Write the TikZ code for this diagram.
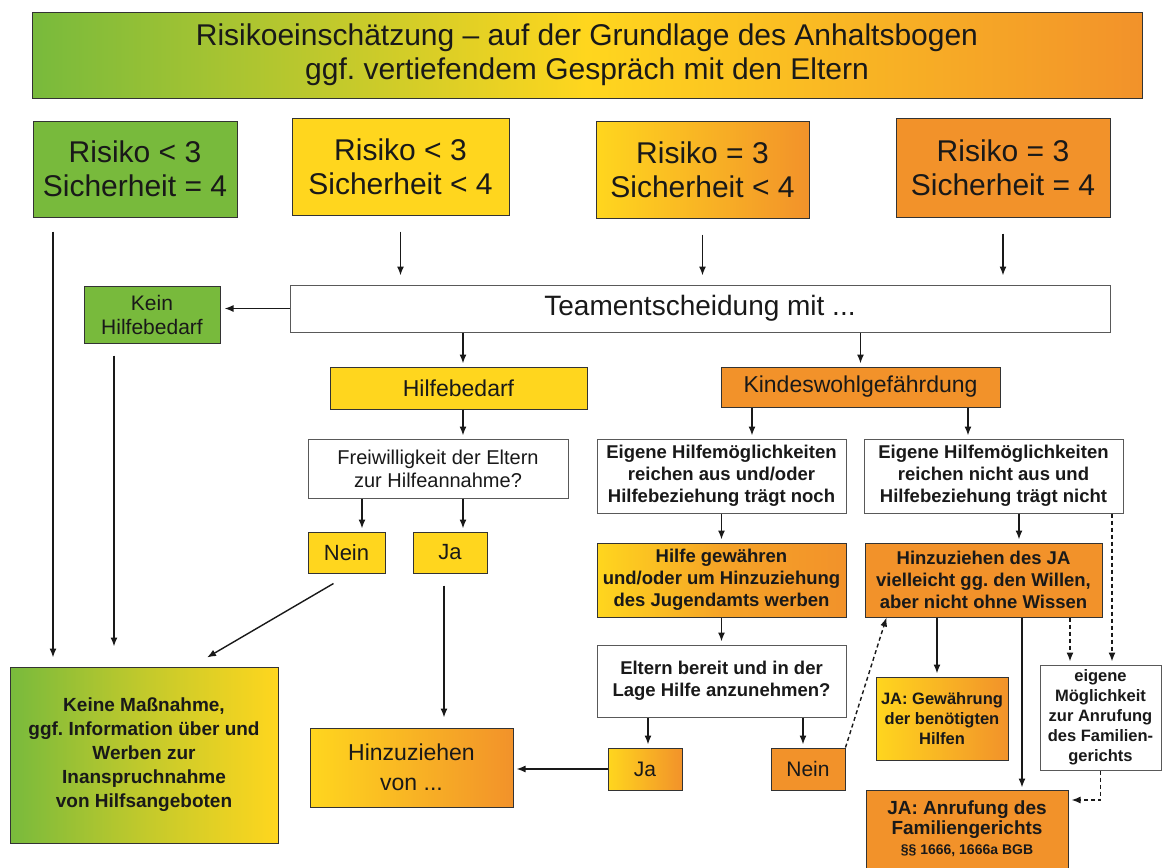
\documentclass[tikz,border=0pt]{standalone}
\usepackage{fontspec}
\setmainfont{Liberation Sans}
\usetikzlibrary{arrows.meta,calc}
\definecolor{cgreen}{RGB}{120,186,60}
\definecolor{cyellow}{RGB}{255,214,30}
\definecolor{corange}{RGB}{242,146,42}
\frenchspacing
\begin{document}
\begin{tikzpicture}[x=1pt,y=-1pt,
  box/.style={draw=black!80,line width=1pt,inner sep=2pt,align=center,text=black!90},
  wbox/.style={box,fill=white,draw=black!65},
  arr/.style={-{Latex[length=9pt,width=7pt]},line width=1.4pt,draw=black!90},
  darr/.style={arr,dash pattern=on 4pt off 3pt},
  fbig/.style={font=\fontsize{30}{34}\selectfont},
  fmid/.style={font=\fontsize{23}{30}\selectfont},
  fsm/.style={font=\fontsize{20}{23}\selectfont},
  fbold/.style={font=\fontsize{18.5}{22}\selectfont\bfseries},
  fbsm/.style={font=\fontsize{16.5}{20}\selectfont\bfseries}
]
\useasboundingbox (0,0) rectangle (1163,868);
\fill[white] (0,0) rectangle (1163,868);

% title
\node[box,fbig,minimum width=1110pt,minimum height=86pt,left color=cgreen,right color=corange,middle color=cyellow] (title) at (587,55)
  {Risikoeinschätzung – auf der Grundlage des Anhaltsbogen\\ggf. vertiefendem Gespräch mit den Eltern};

% risk boxes
\node[box,fbig,minimum width=204pt,minimum height=96pt,fill=cgreen] (box1) at (135,169) {Risiko < 3\\Sicherheit = 4};
\node[box,fbig,minimum width=217pt,minimum height=97pt,fill=cyellow] (box2) at (400.5,166.5) {Risiko < 3\\Sicherheit < 4};
\node[box,fbig,minimum width=213pt,minimum height=97pt,left color=cyellow,right color=corange] (box3) at (702.5,169.5) {Risiko = 3\\Sicherheit < 4};
\node[box,fbig,minimum width=214pt,minimum height=99pt,fill=corange] (box4) at (1003,167.5) {Risiko = 3\\Sicherheit = 4};

% team decision
\node[wbox,font=\fontsize{28}{32}\selectfont,minimum width=820pt,minimum height=47pt] (team) at (700,308.5) {Teamentscheidung mit ...};
\node[box,font=\fontsize{21}{24}\selectfont,minimum width=136pt,minimum height=57pt,fill=cgreen] (kein) at (152,314.5) {Kein\\Hilfebedarf};

\node[box,fmid,minimum width=257pt,minimum height=42pt,fill=cyellow] (hilfe) at (458.5,388) {Hilfebedarf};
\node[box,fmid,minimum width=279pt,minimum height=40pt,fill=corange] (kindes) at (860.5,387) {Kindeswohlgefährdung};

\node[wbox,fsm,minimum width=260pt,minimum height=59pt] (freiw) at (438,468.5) {Freiwilligkeit der Eltern\\zur Hilfeannahme?};
\node[box,font=\fontsize{22}{26}\selectfont,minimum width=77pt,minimum height=41pt,fill=cyellow] (nein1) at (346.5,552.5) {Nein};
\node[box,font=\fontsize{22}{26}\selectfont,minimum width=74pt,minimum height=41pt,fill=cyellow] (ja1) at (450,552.5) {Ja};

\node[box,font=\fontsize{19}{24}\selectfont\bfseries,minimum width=268pt,minimum height=176pt,left color=cgreen,right color=cyellow,middle color=cgreen!45!cyellow] (keine) at (144,755)
  {Keine Maßnahme,\\ggf. Information über und\\Werben zur\\Inanspruchnahme\\von Hilfsangeboten};
\node[box,fmid,minimum width=203pt,minimum height=79pt,left color=cyellow,right color=corange] (hinzvon) at (411.5,767.5) {Hinzuziehen\\von ...};

\node[wbox,fbold,minimum width=249pt,minimum height=74pt] (eigL) at (721.5,476) {Eigene Hilfemöglichkeiten\\reichen aus und/oder\\Hilfebeziehung trägt noch};
\node[wbox,fbold,minimum width=259pt,minimum height=74pt] (eigR) at (993.5,476) {Eigene Hilfemöglichkeiten\\reichen nicht aus und\\Hilfebeziehung trägt nicht};

\node[box,fbold,minimum width=249pt,minimum height=74pt,left color=cyellow,right color=corange,middle color=corange!75!cyellow] (hilfegew) at (721.5,580) {Hilfe gewähren\\und/oder um Hinzuziehung\\des Jugendamts werben};
\node[box,fbold,minimum width=237pt,minimum height=74pt,fill=corange] (hinzJA) at (983.5,580) {Hinzuziehen des JA\\vielleicht gg. den Willen,\\aber nicht ohne Wissen};

\node[wbox,fbold,minimum width=249pt,minimum height=72pt] (eltern) at (721.5,681) {Eltern bereit und in der\\Lage Hilfe anzunehmen?};
\node[box,font=\fontsize{21}{25}\selectfont,minimum width=74pt,minimum height=42pt,left color=cyellow,right color=corange] (ja2) at (645,769) {Ja};
\node[box,font=\fontsize{21}{25}\selectfont,minimum width=74pt,minimum height=42pt,fill=corange] (nein2) at (808,769) {Nein};

\node[box,fbsm,minimum width=132pt,minimum height=83pt,left color=cyellow,right color=corange] (jagew) at (942,718.5) {JA: Gewährung\\der benötigten\\Hilfen};
\node[wbox,fbsm,minimum width=121pt,minimum height=105pt] (eigene) at (1100.5,717.5) {eigene\\Möglichkeit\\zur Anrufung\\des Familien-\\gerichts};
\node[box,font=\fontsize{19}{20}\selectfont\bfseries,minimum width=202pt,minimum height=78pt,fill=corange] (anruf) at (967,829)
  {JA: Anrufung des\\Familiengerichts\\{\fontsize{14}{18}\selectfont §§ 1666, 1666a BGB}};

% column coordinates
\coordinate (c53) at (53,0);
\coordinate (c114) at (114,0);
\coordinate (c362) at (362,0);
\coordinate (c444) at (444,0);
\coordinate (c463) at (463,0);
\coordinate (c648) at (648,0);
\coordinate (c752) at (752,0);
\coordinate (c803) at (803,0);
\coordinate (c937) at (937,0);
\coordinate (c968) at (968,0);
\coordinate (c1019) at (1019,0);
\coordinate (c1022) at (1022,0);
\coordinate (c1070) at (1070,0);
\coordinate (c1112) at (1112,0);

% connectors
\draw[arr,shorten <=16pt,shorten >=9pt] (box2.south) -- (box2.south |- team.north);
\draw[arr,shorten <=16pt,shorten >=9pt] (box3.south) -- (box3.south |- team.north);
\draw[arr,shorten <=16pt,shorten >=9pt] (box4.south) -- (box4.south |- team.north);
\draw[arr,shorten >=4pt] (team.west) -- (team.west -| kein.east);
\draw[arr,shorten <=14pt,shorten >=9pt] (c53 |- box1.south) -- (c53 |- keine.north);
\draw[arr,shorten <=12pt,shorten >=20pt] (c114 |- kein.south) -- (c114 |- keine.north);
\draw[arr,shorten >=3pt] (c463 |- team.south) -- (c463 |- hilfe.north);
\draw[arr,shorten >=3pt] (c463 |- hilfe.south) -- (c463 |- freiw.north);
\draw[arr,shorten >=3pt] (c463 |- freiw.south) -- (c463 |- ja1.north);
\draw[arr,shorten >=3pt] (c362 |- freiw.south) -- (c362 |- nein1.north);
\draw[arr] ($(nein1.south)+(-13,10)$) -- ($(keine.north)+(63,-9)$);
\draw[arr,shorten <=12pt,shorten >=10pt] (c444 |- ja1.south) -- (c444 |- hinzvon.north);
\draw[arr,shorten >=3pt] (kindes.north |- team.south) -- (kindes.north);
\draw[arr,shorten >=3pt] (c752 |- kindes.south) -- (c752 |- eigL.north);
\draw[arr,shorten >=3pt] (c968 |- kindes.south) -- (c968 |- eigR.north);
\draw[arr,shorten >=3pt] (eigL.south) -- (hilfegew.north);
\draw[arr,shorten >=3pt] (c1019 |- eigR.south) -- (c1019 |- hinzJA.north);
\draw[arr,shorten >=3pt] (hilfegew.south) -- (eltern.north);
\draw[arr,shorten >=3pt] (c648 |- eltern.south) -- (c648 |- ja2.north);
\draw[arr,shorten >=3pt] (c803 |- eltern.south) -- (c803 |- nein2.north);
\draw[arr,shorten >=3pt] (ja2.west) -- (ja2.west -| hinzvon.east);
\draw[darr] (nein2.north east) -- ($(hinzJA.south west)+(22,0)$);
\draw[arr,shorten >=3pt] (c937 |- hinzJA.south) -- (c937 |- jagew.north);
\draw[arr,shorten >=2pt] (c1022 |- hinzJA.south) -- (c1022 |- anruf.north);
\draw[darr,shorten >=3pt] (c1070 |- hinzJA.south) -- (c1070 |- eigene.north);
\draw[darr,shorten >=3pt] (c1112 |- eigR.south) -- (c1112 |- eigene.north);
\draw[darr,shorten >=3pt] (eigene.south) |- ($(anruf.east)+(0,-29)$);
\end{tikzpicture}
\end{document}
